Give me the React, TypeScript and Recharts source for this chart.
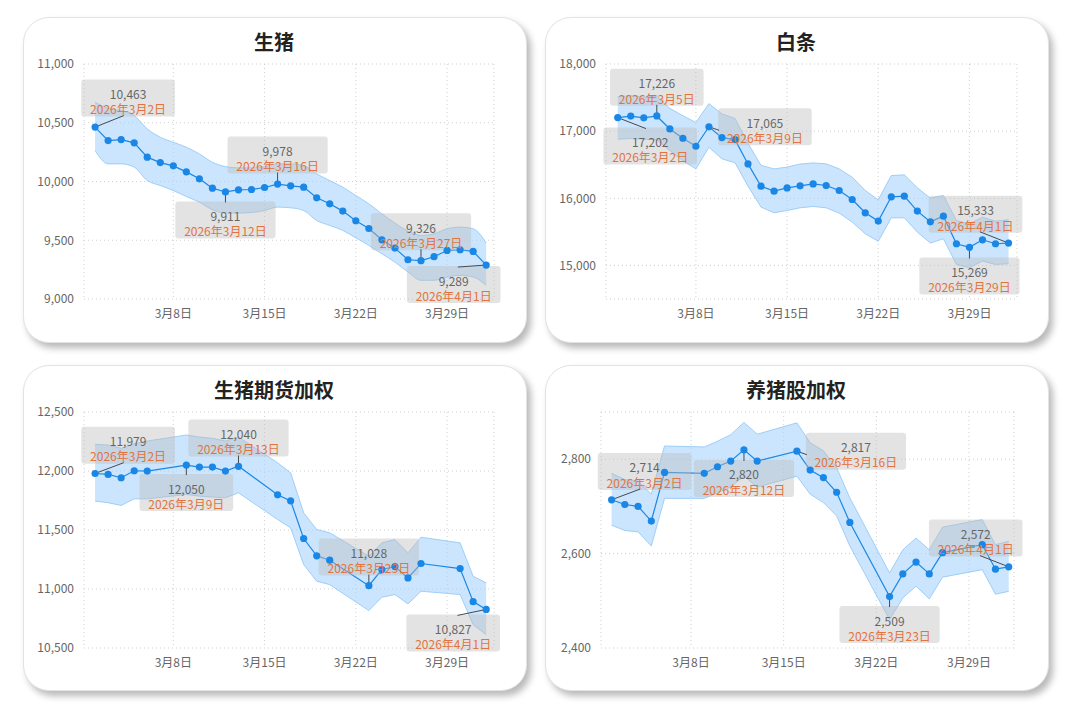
import React from "react";
import { ComposedChart, Area, Line, XAxis, YAxis, CartesianGrid } from "recharts";

// day numbers: 1..31 = 3月, 32 = 4月1日
const dailyDays = [2, 3, 4, 5, 6, 7, 8, 9, 10, 11, 12, 13, 14, 15, 16, 17, 18, 19, 20, 21, 22, 23, 24, 25, 26, 27, 28, 29, 30, 31, 32];
const tradingDays = [2, 3, 4, 5, 6, 9, 10, 11, 12, 13, 16, 17, 18, 19, 20, 23, 24, 25, 26, 27, 30, 31, 32];
const xTicks = [8, 15, 22, 29];

// 生猪
const pigValues = [10463, 10348, 10357, 10329, 10207, 10161, 10133, 10082, 10023, 9943, 9911, 9929, 9932, 9949, 9978, 9963, 9952, 9861, 9810, 9748, 9666, 9600, 9504, 9433, 9334, 9326, 9360, 9413, 9419, 9405, 9289];
const pigHigh = [10674, 10623, 10603, 10561, 10448, 10377, 10334, 10292, 10235, 10164, 10127, 10116, 10116, 10127, 10150, 10150, 10136, 10065, 10008, 9952, 9881, 9810, 9725, 9646, 9578, 9541, 9555, 9598, 9612, 9598, 9476];
const pigLow = [10263, 10150, 10150, 10122, 10008, 9966, 9923, 9872, 9824, 9759, 9731, 9731, 9736, 9753, 9782, 9776, 9753, 9668, 9626, 9584, 9521, 9456, 9385, 9314, 9229, 9159, 9159, 9187, 9201, 9187, 9116];
const pigMarks = [2, 12, 16, 27, 32];
const pigTicks = [9000, 9500, 10000, 10500, 11000];

// 白条
const carcassValues = [17202, 17224, 17198, 17226, 17033, 16894, 16775, 17065, 16904, 16874, 16512, 16180, 16106, 16155, 16185, 16214, 16190, 16116, 15982, 15784, 15660, 16022, 16032, 15809, 15650, 15734, 15323, 15269, 15382, 15323, 15333];
const carcassHigh = [17510, 17530, 17510, 17520, 17340, 17230, 17130, 17410, 17256, 17190, 16820, 16490, 16438, 16465, 16510, 16527, 16513, 16438, 16314, 16116, 15977, 16339, 16349, 16156, 16002, 16042, 15670, 15620, 15719, 15660, 15680];
const carcassLow = [16880, 16890, 16880, 16870, 16711, 16562, 16438, 16760, 16587, 16530, 16180, 15868, 15784, 15818, 15858, 15878, 15858, 15779, 15645, 15471, 15360, 15709, 15709, 15496, 15333, 15397, 15015, 14966, 15065, 15015, 15025];
const carcassMarks = [2, 5, 9, 29, 32];
const carcassTicks = [15000, 16000, 17000, 18000];

// 生猪期货加权
const futuresValues = [11979, 11971, 11943, 12002, 11999, 12050, 12033, 12033, 11999, 12040, 11798, 11747, 11428, 11281, 11244, 11028, 11165, 11190, 11094, 11216, 11173, 10893, 10827];
const futuresHigh = [12226, 12220, 12192, 12231, 12254, 12305, 12288, 12277, 12254, 12288, 12070, 11985, 11646, 11504, 11476, 11278, 11391, 11419, 11306, 11439, 11391, 11108, 11052];
const futuresLow = [11745, 11731, 11708, 11764, 11764, 11801, 11787, 11779, 11773, 11815, 11589, 11518, 11207, 11066, 11037, 10817, 10930, 10953, 10873, 10981, 10953, 10698, 10613];
const futuresMarks = [2, 9, 13, 23, 32];
const futuresTicks = [10500, 11000, 11500, 12000, 12500];

// 养猪股加权
const stockValues = [2714, 2704, 2700, 2669, 2772, 2770, 2784, 2796, 2820, 2796, 2817, 2777, 2761, 2730, 2666, 2509, 2557, 2582, 2557, 2602, 2619, 2567, 2572];
const stockHigh = [2770, 2757, 2754, 2726, 2828, 2826, 2838, 2852, 2878, 2853, 2877, 2835, 2818, 2782, 2718, 2559, 2608, 2633, 2608, 2656, 2672, 2619, 2626];
const stockLow = [2660, 2649, 2646, 2616, 2717, 2717, 2729, 2741, 2764, 2741, 2764, 2726, 2708, 2680, 2616, 2460, 2506, 2531, 2504, 2550, 2566, 2514, 2520];
const stockMarks = [2, 12, 16, 23, 32];
const stockTicks = [2400, 2600, 2800];

const FONT = '"Noto Sans CJK SC", "Noto Sans", sans-serif';
const BLUE = "#1a87e6";
const CARD_W = 502;
const CARD_H = 324;
const BOX_H = 37;

const fmt = (v: number) => v.toLocaleString("en-US");
const dateLabel = (d: number) => (d > 31 ? `2026年4月${d - 31}日` : `2026年3月${d}日`);
const boxWidth = (s: string) => {
  let w = 0;
  for (const ch of s) w += /[0-9]/.test(ch) ? 6.6 : 12;
  return w + 18;
};

type Panel = {
  title: string;
  days: number[];
  values: number[];
  high: number[];
  low: number[];
  marks: number[];
  offsets: number[][]; // label box centre relative to the point
  yTicks: number[];
  yDomain: number[];
  xDomain: number[];
  left: number;
  top: number;
  yWidth: number;
  right: number;
  bottom: number;
  bandType: "monotone" | "linear";
};

const panels: Panel[] = [
  {
    title: "生猪", days: dailyDays, values: pigValues, high: pigHigh, low: pigLow, marks: pigMarks,
    offsets: [[33, -29], [0, 28], [0, -29], [0, -29], [-32.5, 19.5]],
    yTicks: pigTicks, yDomain: [9000, 11000], xDomain: [1.15, 32.6],
    left: 24, top: 18, yWidth: 55, right: 31, bottom: 12, bandType: "monotone",
  },
  {
    title: "白条", days: dailyDays, values: carcassValues, high: carcassHigh, low: carcassLow, marks: carcassMarks,
    offsets: [[32.5, 28.5], [0, -28.7], [56, 0], [0, 28.7], [-33, -28.8]],
    yTicks: carcassTicks, yDomain: [14500, 18000], xDomain: [1.1, 32.65],
    left: 546, top: 18, yWidth: 55, right: 30, bottom: 12, bandType: "linear",
  },
  {
    title: "生猪期货加权", days: tradingDays, values: futuresValues, high: futuresHigh, low: futuresLow, marks: futuresMarks,
    offsets: [[33, -28.3], [0, 27.5], [0, -28.3], [0, -28.7], [-33, 23.5]],
    yTicks: futuresTicks, yDomain: [10500, 12500], xDomain: [1.15, 32.6],
    left: 24, top: 366, yWidth: 55, right: 31, bottom: 11, bandType: "linear",
  },
  {
    title: "养猪股加权", days: tradingDays, values: stockValues, high: stockHigh, low: stockLow, marks: stockMarks,
    offsets: [[33, -28.3], [0, 28.7], [59, 0], [0, 28], [-33, -28.7]],
    yTicks: stockTicks, yDomain: [2400, 2900], xDomain: [1.2, 32.4],
    left: 546, top: 366, yWidth: 50, right: 33, bottom: 11, bandType: "linear",
  },
];

function ChartCard({ p }: { p: Panel }) {
  const rows = p.days.map((d, i) => ({
    day: d,
    value: p.values[i],
    band: [p.low[i], p.high[i]],
    mark: p.marks.includes(d) ? p.values[i] : null,
  }));

  const geom = (props: any) => {
    const { cx, cy, payload } = props;
    if (payload == null || payload.mark == null || cx == null || cy == null) return null;
    const k = p.marks.indexOf(payload.day);
    const [dx, dy] = p.offsets[k];
    const label = dateLabel(payload.day);
    const w = boxWidth(label);
    return { cx, cy, dx, dy, w, label, bx: cx + dx, by: cy + dy };
  };

  const boxDot = (props: any) => {
    const g = geom(props);
    if (!g) return <g key={props.index} />;
    let ex: number;
    let ey: number;
    if (g.dy === 0) {
      ex = g.cx + Math.sign(g.dx) * (Math.abs(g.dx) - g.w / 2 + 1);
      ey = g.cy + 3.5;
    } else {
      ex = g.cx + g.dx * 0.87;
      ey = g.cy + (g.dy > 0 ? g.dy - BOX_H / 2 + 1 : g.dy + BOX_H / 2 - 1);
    }
    return (
      <g key={props.index}>
        <rect x={g.bx - g.w / 2} y={g.by - BOX_H / 2} width={g.w} height={BOX_H} rx={3}
          fill="#bcbcbc" fillOpacity={0.42} />
        <line x1={g.cx} y1={g.cy} x2={ex} y2={ey} stroke="#4a4a4a" strokeWidth={1} />
      </g>
    );
  };

  const textDot = (props: any) => {
    const g = geom(props);
    if (!g) return <g key={props.index} />;
    return (
      <g key={props.index}>
        <text x={g.bx} y={g.by - 4.5} textAnchor="middle" dominantBaseline="central"
          fontSize={12} fill="#666">{fmt(props.payload.mark)}</text>
        <text x={g.bx} y={g.by + 10.8} textAnchor="middle" dominantBaseline="central"
          fontSize={12} fill="#e2733f">{g.label}</text>
      </g>
    );
  };

  return (
    <div
      style={{
        position: "absolute", left: p.left - 1, top: p.top - 1, width: CARD_W, height: CARD_H,
        background: "#fff", borderRadius: 26, border: "1px solid #e3e3e3",
        boxShadow: "4px 5px 7px rgba(0,0,0,0.28)",
      }}
    >
      <div
        style={{
          position: "absolute", left: -1, top: 10, width: CARD_W, textAlign: "center",
          fontSize: 20, fontWeight: 700, lineHeight: "28px", color: "#222",
        }}
      >
        {p.title}
      </div>
      <div style={{ position: "absolute", left: -1, top: -1 }}>
        <ComposedChart
          width={CARD_W}
          height={CARD_H}
          data={rows}
          margin={{ top: 47, right: p.right, bottom: p.bottom, left: 6 }}
        >
          <CartesianGrid stroke="#cfcfcf" strokeDasharray="1 3" />
          <XAxis
            dataKey="day" type="number" domain={p.xDomain} ticks={xTicks} interval={0}
            height={30} axisLine={false} tickLine={false} tickMargin={4}
            tick={{ fill: "#666", fontSize: 12 }} tickFormatter={(d: number) => `3月${d}日`}
          />
          <YAxis
            type="number" domain={p.yDomain} ticks={p.yTicks} interval={0}
            width={p.yWidth} axisLine={false} tickLine={false} tickMargin={4}
            tick={{ fill: "#666", fontSize: 12 }} tickFormatter={fmt}
          />
          <Area
            type={p.bandType} dataKey="band" stroke="#8ec6f4" strokeOpacity={0.8} strokeWidth={1}
            fill="#a6d3fb" fillOpacity={0.6} isAnimationActive={false} activeDot={false}
          />
          <Line
            dataKey="mark" stroke="none" dot={boxDot} activeDot={false} isAnimationActive={false}
          />
          <Line
            type="linear" dataKey="value" stroke={BLUE} strokeWidth={1.2}
            dot={{ r: 3.6, fill: BLUE, stroke: "none" }} activeDot={false} isAnimationActive={false}
          />
          <Line
            dataKey="mark" stroke="none" dot={textDot} activeDot={false} isAnimationActive={false}
          />
        </ComposedChart>
      </div>
    </div>
  );
}

export default function App() {
  return (
    <div
      style={{
        position: "absolute", left: 0, top: 0, width: 1080, height: 725,
        background: "#fff", fontFamily: FONT, overflow: "hidden",
      }}
    >
      {panels.map((p) => (
        <ChartCard key={p.title} p={p} />
      ))}
    </div>
  );
}
